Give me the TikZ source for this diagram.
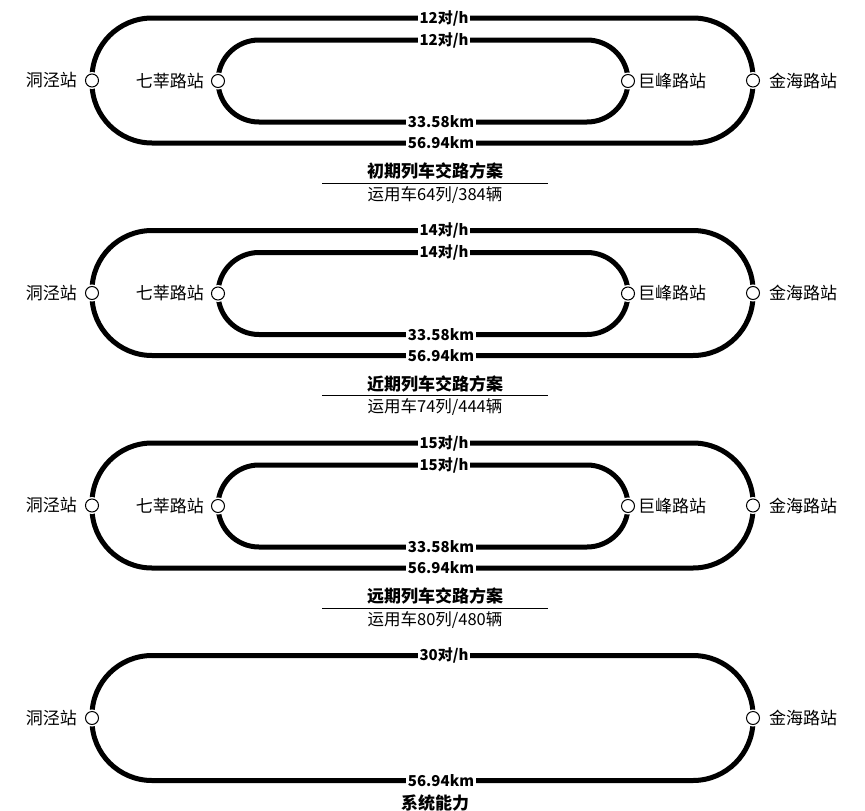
\documentclass[tikz,border=0pt]{standalone}
\usepackage{fontspec}
\setmainfont{Noto Sans CJK SC}
\usetikzlibrary{positioning}
\tikzset{
  lp/.style={line width=5pt,black},
  st/.style={circle,draw,line width=1pt,fill=white,minimum size=13pt,inner sep=0pt,
    preaction={draw=white,line width=4pt}},
  nm/.style={font=\fontsize{17}{17}\selectfont,inner sep=0pt},
  lb/.style={fill=white,font=\bfseries\fontsize{15}{15}\selectfont,inner sep=1.5pt},
  ttl/.style={font=\bfseries\fontsize{17}{17}\selectfont,inner sep=0pt},
  sub/.style={font=\fontsize{16.5}{16.5}\selectfont,inner sep=0pt}
}

\begin{document}
\begin{tikzpicture}[x=1pt,y=-1pt]
\useasboundingbox (0,0) rectangle (865,811);
% three train routing plans
\foreach \o/\rate/\stage/\cars/\veh in {0/12/初期/64/384,212.5/14/近期/74/444,425/15/远期/80/480}{
\begin{scope}[yshift=-\o pt]
\coordinate (ol) at (92,18); \coordinate (or) at (753,143);
\coordinate (il) at (218,40); \coordinate (ir) at (628,122);
\draw[lp,rounded corners=60pt] (ol) rectangle (or);
\draw[lp,rounded corners=41pt] (il) rectangle (ir);
\node[st] (dj) at (92,80.5) {};
\node[st] (qx) at (218,81) {};
\node[st] (jf) at (628,81) {};
\node[st] (jh) at (753,80.5) {};
\node[nm,left=8pt of dj] (djn) {洞泾站};
\node[nm,left=7pt of qx] (qxn) {七莘路站};
\node[nm,right=3pt of jf] (jfn) {巨峰路站};
\node[nm,right=9pt of jh] (jhn) {金海路站};
\node[lb] (ro) at (444,18) {{\rate}对/h};
\node[lb] (ri) at (444,40) {{\rate}对/h};
\node[lb] (ki) at (441,122) {33.58km};
\node[lb] (ko) at (441,143) {56.94km};
\node[ttl] (tt) at (435,171) {{\stage}列车交路方案};
\draw (322,183) -- (548,183);
\node[sub] (sb) at (435,195) {运用车{\cars}列/{\veh}辆};
\end{scope}}
% system capacity
\begin{scope}[yshift=-637.5pt]
\coordinate (ol) at (92,18); \coordinate (or) at (753,143);
\draw[lp,rounded corners=60pt] (ol) rectangle (or);
\node[st] (dj) at (92,80.5) {};
\node[st] (jh) at (753,80.5) {};
\node[nm,left=8pt of dj] (djn) {洞泾站};
\node[nm,right=9pt of jh] (jhn) {金海路站};
\node[lb] (ro) at (444,18) {30对/h};
\node[lb] (ko) at (441,143) {56.94km};
\node[ttl] (tt) at (435,166) {系统能力};
\end{scope}
\end{tikzpicture}
\end{document}
